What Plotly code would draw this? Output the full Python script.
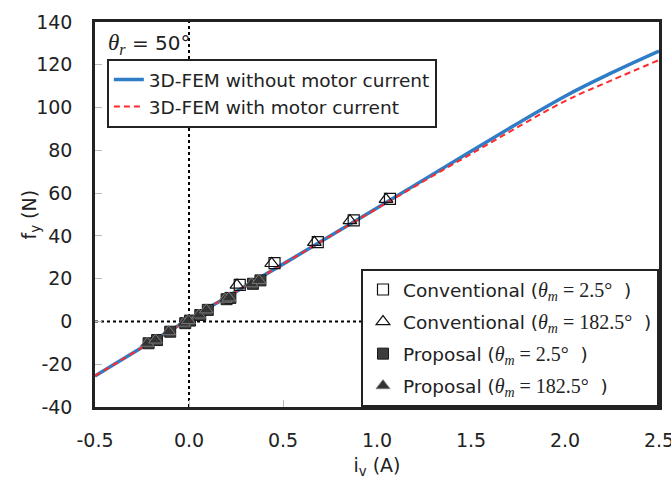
import plotly.graph_objects as go

# ---- data ----
iv_line = [-0.5, 0.0, 0.5, 1.0, 1.5, 2.0, 2.25, 2.5]
fy_without = [-25.5, 1.0, 26.8, 53.0, 79.6, 105.3, 116.3, 126.4]
fy_with = [-25.5, 1.0, 26.8, 52.8, 78.3, 103.0, 112.8, 122.2]

conv_sq_x = [0.27, 0.455, 0.685, 0.876, 1.069]
conv_sq_y = [17.1, 27.3, 37.1, 47.3, 57.3]
conv_tr_x = [0.255, 0.44, 0.667, 0.856, 1.048]
conv_tr_y = [17.0, 27.1, 37.0, 47.1, 57.1]

prop_sq_x = [-0.215, -0.17, -0.10, -0.02, 0.005, 0.06, 0.10, 0.20, 0.22, 0.34, 0.38]
prop_sq_y = [-10.2, -8.7, -4.8, -0.8, 0.4, 3.0, 5.4, 10.4, 11.0, 17.6, 19.2]
prop_tr_x = [-0.222, -0.178, -0.108, -0.028, -0.003, 0.052, 0.092, 0.192, 0.212, 0.332, 0.372]
prop_tr_y = [-10.2, -8.7, -4.8, -0.8, 0.4, 3.0, 5.4, 10.4, 11.0, 17.6, 19.2]

x_ticks = [-0.5, 0.0, 0.5, 1.0, 1.5, 2.0, 2.5]
x_tick_text = ["-0.5", "0.0", "0.5", "1.0", "1.5", "2.0", "2.5"]
y_ticks = [-40, -20, 0, 20, 40, 60, 80, 100, 120, 140]
y_tick_text = ["-40", "-20", "0", "20", "40", "60", "80", "100", "120", "140"]

SANS = "DejaVu Sans"
SERIF = "Liberation Serif"
TXT = "#222222"

def theta_m(val):
    return ("<span style=\"font-family:%s;font-size:20px\"><i>θ<sub>m</sub></i> = %s°</span>\u00a0\u00a0)"
            % (SERIF, val))

fig = go.Figure()

# reference dotted lines
fig.add_trace(go.Scatter(x=[0, 0], y=[-40, 140], mode="lines",
                         line=dict(color="black", width=2, dash="dot"),
                         showlegend=False, hoverinfo="skip"))
fig.add_trace(go.Scatter(x=[-0.5, 2.5], y=[0, 0], mode="lines",
                         line=dict(color="black", width=2, dash="dot"),
                         showlegend=False, hoverinfo="skip"))

fig.add_trace(go.Scatter(x=iv_line, y=fy_without, mode="lines", line_shape="spline",
                         line=dict(color="#2f7dc6", width=3.5),
                         name="3D-FEM without motor current", legend="legend",
                         legendgroup="a"))
fig.add_trace(go.Scatter(x=iv_line, y=fy_with, mode="lines", line_shape="spline",
                         line=dict(color="#ff2a2a", width=2, dash="6px,4px"),
                         name="3D-FEM with motor current", legend="legend",
                         legendgroup="b"))

fig.add_trace(go.Scatter(x=conv_sq_x, y=conv_sq_y, mode="markers",
                         marker=dict(symbol="square-open", size=11, color="#111111",
                                     line=dict(width=1.2)),
                         name="Conventional (" + theta_m("2.5"), legend="legend2",
                         legendgroup="c"))
fig.add_trace(go.Scatter(x=conv_tr_x, y=conv_tr_y, mode="markers",
                         marker=dict(symbol="triangle-up-open", size=12, color="#111111",
                                     line=dict(width=1.2)),
                         name="Conventional (" + theta_m("182.5"), legend="legend2",
                         legendgroup="d"))
fig.add_trace(go.Scatter(x=prop_sq_x, y=prop_sq_y, mode="markers",
                         marker=dict(symbol="square", size=11, color="#3d3d3d",
                                     line=dict(width=1, color="#1a1a1a")),
                         name="Proposal (" + theta_m("2.5"), legend="legend2",
                         legendgroup="e"))
fig.add_trace(go.Scatter(x=prop_tr_x, y=prop_tr_y, mode="markers",
                         marker=dict(symbol="triangle-up", size=12, color="#333333",
                                     line=dict(width=1, color="#777777")),
                         name="Proposal (" + theta_m("182.5"), legend="legend2",
                         legendgroup="f"))

fig.add_annotation(xref="paper", yref="paper", x=0.02, y=0.985, xanchor="left", yanchor="top",
                   showarrow=False,
                   text="<span style=\"font-family:%s;font-size:23px\"><i>θ<sub>r</sub></i></span> = 50°" % SERIF,
                   font=dict(family=SANS, size=20, color=TXT))

# y-axis title placed as annotation for precise position
fig.add_annotation(xref="paper", yref="paper", x=-0.1152, y=0.5, xanchor="center", yanchor="middle",
                   showarrow=False, textangle=-90, text="f<sub>y</sub> (N)",
                   font=dict(family=SANS, size=19, color=TXT))

fig.update_layout(
    width=671, height=482,
    margin=dict(l=95, r=12, t=22, b=75, autoexpand=False),
    paper_bgcolor="white", plot_bgcolor="white",
    font=dict(family=SANS, size=19, color=TXT),
    showlegend=True,
    legend=dict(x=0.021, y=0.904, xanchor="left", yanchor="top",
                bgcolor="white", bordercolor="#222222", borderwidth=2,
                font=dict(family=SANS, size=18.5, color=TXT),
                tracegroupgap=0, itemwidth=30),
    legend2=dict(x=1.0, y=0.0, xanchor="right", yanchor="bottom",
                 bgcolor="white", bordercolor="#222222", borderwidth=2,
                 font=dict(family=SANS, size=18.5, color=TXT),
                 tracegroupgap=5, itemwidth=30),
    xaxis=dict(range=[-0.5, 2.5], tickvals=x_ticks, ticktext=x_tick_text,
               ticks="inside", ticklen=7, tickcolor="#bbbbbb", tickwidth=1,
               showgrid=False, zeroline=False, showline=True, linecolor="#222222",
               linewidth=2.5, mirror=True, ticklabelstandoff=14, ticklabeloverflow="allow",
               title=dict(text="i<sub>v</sub> (A)", standoff=10,
                          font=dict(family=SANS, size=19, color=TXT))),
    yaxis=dict(range=[-40, 140], tickvals=y_ticks, ticktext=y_tick_text,
               ticks="inside", ticklen=7, tickcolor="#bbbbbb", tickwidth=1,
               showgrid=False, zeroline=False, showline=True, linecolor="#222222",
               linewidth=2.5, mirror=True, ticklabelstandoff=16, ticklabeloverflow="allow"),
)

fig.write_html("out.html", config={"displayModeBar": False},
               post_script="document.body.style.margin='0';")
